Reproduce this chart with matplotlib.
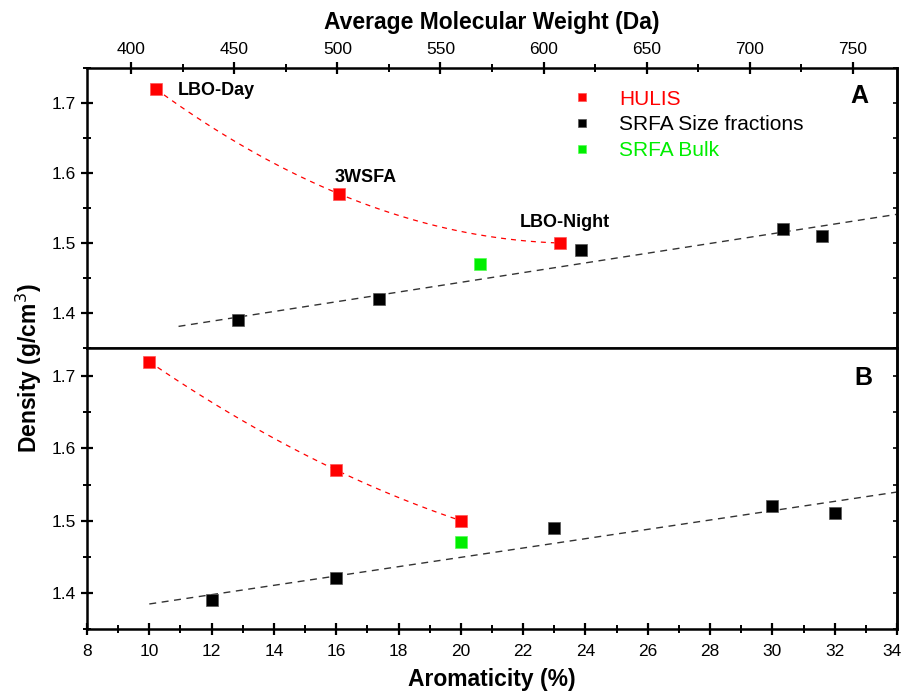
import numpy as np
import matplotlib
matplotlib.use("Agg")
import matplotlib.pyplot as plt
from matplotlib.ticker import MultipleLocator

plt.rcParams['font.family'] = ['Liberation Sans', 'DejaVu Sans']

# panel A : density vs average molecular weight (Da)
hulis_mw = [412, 501, 608]
hulis_dens = [1.72, 1.57, 1.50]
hulis_names = ["LBO-Day", "3WSFA", "LBO-Night"]
srfa_mw = [452, 520, 618, 716, 735]
srfa_dens = [1.39, 1.42, 1.49, 1.52, 1.51]
bulk_mw = [569]
bulk_dens = [1.47]

# panel B : density vs aromaticity (%)
hulis_aro = [10, 16, 20]
srfa_aro = [12, 16, 23, 30, 32]
bulk_aro = [20]

RED = '#ff0000'
GREEN = '#00ee00'
BLACK = '#000000'


def style_axis(ax):
    for s in ax.spines.values():
        s.set_linewidth(1.8)
    ax.tick_params(axis='both', which='major', direction='inout', length=9,
                   width=1.6, labelsize=12.5)
    ax.tick_params(axis='both', which='minor', direction='inout', length=6,
                   width=1.4)
    ax.yaxis.set_major_locator(MultipleLocator(0.1))
    ax.yaxis.set_minor_locator(MultipleLocator(0.05))
    ax.yaxis.set_major_formatter(plt.FuncFormatter(lambda v, p: f"{v:.1f}"))
    sec = ax.secondary_yaxis('right')
    sec.yaxis.set_major_locator(MultipleLocator(0.05))
    sec.tick_params(direction='in', length=3, width=1.2, labelright=False)
    sec.spines['right'].set_linewidth(1.8)


def draw_panel(ax, hx, sx, bx, fit_start, fit_end):
    # quadratic trend through HULIS points
    c = np.polyfit(hx, hulis_dens, 2)
    xs = np.linspace(min(hx), max(hx), 100)
    ax.plot(xs, np.polyval(c, xs), color=RED, lw=0.9, ls=(0, (4, 4)))
    # linear fit of SRFA size fractions
    m = np.polyfit(sx, srfa_dens, 1)
    xl = np.linspace(fit_start, fit_end, 2)
    ax.plot(xl, np.polyval(m, xl), color='#333333', lw=1.0, ls=(0, (5, 4)))
    kw = dict(marker='s', ls='none', ms=8, mew=0.5)
    ax.plot(hx, hulis_dens, color=RED, mec='#ff5555', label='HULIS', **kw)
    ax.plot(sx, srfa_dens, color=BLACK, mec='#555555', label='SRFA Size fractions', **kw)
    ax.plot(bx, bulk_dens, color=GREEN, mec='#55ff55', label='SRFA Bulk', **kw)


fig = plt.figure(figsize=(9.03, 6.94), dpi=100)
left, width = 87 / 903, 810 / 903
axA = fig.add_axes([left, 1 - 348 / 694, width, 280 / 694])
axB = fig.add_axes([left, 1 - 629 / 694, width, 281 / 694])

# panel A
draw_panel(axA, hulis_mw, srfa_mw, bulk_mw, 423, 771.4)
axA.set_xlim(378.6, 771.4)
axA.set_ylim(1.35, 1.75)
style_axis(axA)
axA.xaxis.set_ticks_position('top')
axA.xaxis.set_label_position('top')
axA.xaxis.set_major_locator(MultipleLocator(50))
axA.xaxis.set_minor_locator(MultipleLocator(25))
axA.set_xlabel('Average Molecular Weight (Da)', fontsize=16.5, fontweight='bold',
               labelpad=9)
offsets = [(16, -4.3), (-3.6, 8.6), (-28.8, 11.5)]
for x, y, name, off in zip(hulis_mw, hulis_dens, hulis_names, offsets):
    axA.annotate(name, (x, y), xytext=off, textcoords='offset points',
                 fontsize=13, fontweight='bold', va='baseline')
axA.text(0.953, 0.9, 'A', transform=axA.transAxes, fontsize=18,
         fontweight='bold', ha='center', va='center')
leg = axA.legend(loc='upper left', bbox_to_anchor=(0.585, 0.96), frameon=False,
                 fontsize=15, handlelength=1.0, handletextpad=1.3,
                 labelspacing=0.33, borderpad=0, labelcolor='markerfacecolor',
                 markerscale=0.75)

# panel B
draw_panel(axB, hulis_aro, srfa_aro, bulk_aro, 10, 34)
axB.set_xlim(8, 34)
axB.set_ylim(1.35, 1.739)
style_axis(axB)
axB.tick_params(axis='x', which='major', pad=6)
axB.xaxis.set_major_locator(MultipleLocator(2))
axB.xaxis.set_minor_locator(MultipleLocator(1))
# last label ("34") is drawn separately so it stays inside the figure edge
axB.xaxis.set_major_formatter(plt.FuncFormatter(
    lambda v, p: '' if v >= 34 else f"{v:g}"))
axB.annotate('34', (1, 0), xycoords='axes fraction', xytext=(3.5, -10.5),
             textcoords='offset points', ha='right', va='top', fontsize=12.5)
axB.set_xlabel('Aromaticity (%)', fontsize=16.5, fontweight='bold', labelpad=7)
axB.text(0.958, 0.893, 'B', transform=axB.transAxes, fontsize=18,
         fontweight='bold', ha='center', va='center')

fig.text(0.032, 1 - 368 / 694, 'Density (g/cm$^3$)', rotation=90, fontsize=16.5,
         fontweight='bold', ha='center', va='center')

fig.savefig('out.png', dpi=100)
